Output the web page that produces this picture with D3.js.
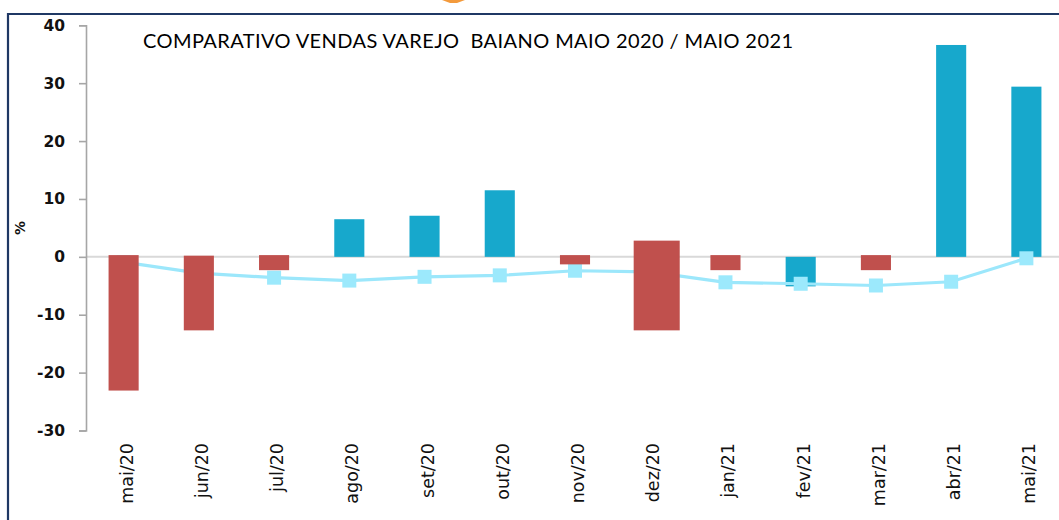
<!DOCTYPE html>
<html>
<head>
<meta charset="utf-8">
<script src="https://cdn.jsdelivr.net/npm/d3@7"></script>
<style>
  html, body { margin: 0; padding: 0; background: #fff; }
  svg { display: block; }
</style>
</head>
<body>
<script>
// ---- data ----
const categories = ["mai/20","jun/20","jul/20","ago/20","set/20","out/20","nov/20","dez/20","jan/21","fev/21","mar/21","abr/21","mai/21"];
// blue bars (original series)
const blueBars = [null, null, null, 6.5, 7.1, 11.5, null, null, null, -5.1, null, 36.6, 29.4];
// red bars (overlaid values) and where each red bar starts
const redBars  = [-23.1, -12.7, -2.3, null, null, null, -1.3, -12.7, -2.3, null, -2.3, null, null];
const redStart = [0.3, 0.2, 0.3, null, null, null, 0.3, 2.8, 0.3, null, 0.3, null, null];
// line series
const lineValues = [-0.9, -2.8, -3.6, -4.1, -3.45, -3.2, -2.4, -2.6, -4.4, -4.65, -4.95, -4.3, -0.25];
const yTicks = [-30, -20, -10, 0, 10, 20, 30, 40];
const yTickLabels = ["-30", "-20", "-10", "0", "10", "20", "30", "40"];
const title = "COMPARATIVO VENDAS VAREJO  BAIANO MAIO 2020 / MAIO 2021";
const yLabel = "%";

// ---- layout ----
const W = 1059, H = 520;
const svg = d3.select("body").append("svg").attr("width", W).attr("height", H);

const x = d3.scaleBand().domain(categories).range([86, 1064]).paddingInner(0.6).paddingOuter(0.3);
const y = d3.scaleLinear().domain([-30, 40]).range([430.5, 25.3]);

// frame
svg.append("path")
  .attr("d", "M8," + (H + 5) + "V14H" + (W + 5))
  .attr("fill", "none").attr("stroke", "#1f3864").attr("stroke-width", 2.2);
// small orange logo tip at top
svg.append("path")
  .attr("d", "M442,0H465L457,3H450Z")
  .attr("fill", "#f39a3c");

// zero line
svg.append("line")
  .attr("x1", 86).attr("x2", W + 5)
  .attr("y1", y(0)).attr("y2", y(0))
  .attr("stroke", "#d9d9d9").attr("stroke-width", 2);

// y axis
const yAxis = svg.append("g").attr("transform", "translate(86,0)")
  .call(d3.axisLeft(y).tickValues(yTicks).tickSize(7).tickSizeOuter(7).tickPadding(14)
    .tickFormat((d, i) => yTickLabels[i]));
yAxis.select(".domain").attr("stroke", "#a6a6a6").attr("stroke-width", 1.6);
yAxis.selectAll(".tick line").attr("stroke", "#a6a6a6").attr("stroke-width", 1.6);
yAxis.selectAll(".tick text")
  .attr("font-family", "DejaVu Sans").attr("font-weight", "bold").attr("font-size", 15.5)
  .attr("fill", "#111");

// y label
svg.append("text")
  .attr("transform", "translate(25,228) rotate(-90)")
  .attr("text-anchor", "middle")
  .attr("font-family", "DejaVu Sans").attr("font-weight", "bold").attr("font-size", 14)
  .attr("fill", "#111")
  .text(yLabel);

// x axis labels
const xAxis = svg.append("g").attr("transform", "translate(0,443)")
  .call(d3.axisBottom(x).tickSize(0));
xAxis.select(".domain").remove();
xAxis.selectAll(".tick text")
  .attr("transform", "rotate(-90)")
  .attr("x", 0).attr("y", 9).attr("dy", 0)
  .style("text-anchor", "end")
  .attr("font-family", "DejaVu Sans").attr("font-size", 17.5)
  .attr("fill", "#111");

// blue bars
const bw = x.bandwidth();
svg.append("g").selectAll("rect")
  .data(categories.map((c, i) => ({ c, v: blueBars[i] })).filter(d => d.v !== null))
  .join("rect")
  .attr("x", d => x(d.c))
  .attr("width", bw)
  .attr("y", d => y(Math.max(0, d.v)))
  .attr("height", d => Math.abs(y(d.v) - y(0)))
  .attr("fill", "#17a8cc");

// line
const lineData = categories.map((c, i) => ({ c, v: lineValues[i] }));
svg.append("path")
  .datum(lineData)
  .attr("d", d3.line().x(d => x(d.c) + bw / 2).y(d => y(d.v)))
  .attr("fill", "none").attr("stroke", "#9ce7fb").attr("stroke-width", 3.2);
const ms = 14;
svg.append("g").selectAll("rect")
  .data(lineData)
  .join("rect")
  .attr("x", d => x(d.c) + bw / 2 - ms / 2)
  .attr("y", d => y(d.v) - ms / 2)
  .attr("width", ms).attr("height", ms)
  .attr("fill", "#9ce9fc");

// red bars (overlay)
svg.append("g").selectAll("rect")
  .data(categories.map((c, i) => ({ c, v: redBars[i], s: redStart[i] })).filter(d => d.v !== null))
  .join("rect")
  .attr("x", d => d.c === "dez/20" ? x(d.c) - 0.05 * bw : x(d.c))
  .attr("width", d => d.c === "dez/20" ? bw * 1.53 : bw)
  .attr("y", d => y(d.s))
  .attr("height", d => y(d.v) - y(d.s))
  .attr("fill", "#c0504d");

// title
svg.append("text")
  .attr("x", 143).attr("y", 48)
  .attr("font-family", "Lato").attr("font-size", 20)
  .attr("textLength", 650).attr("lengthAdjust", "spacing")
  .style("white-space", "pre")
  .attr("fill", "#000")
  .text(title);
</script>
</body>
</html>
